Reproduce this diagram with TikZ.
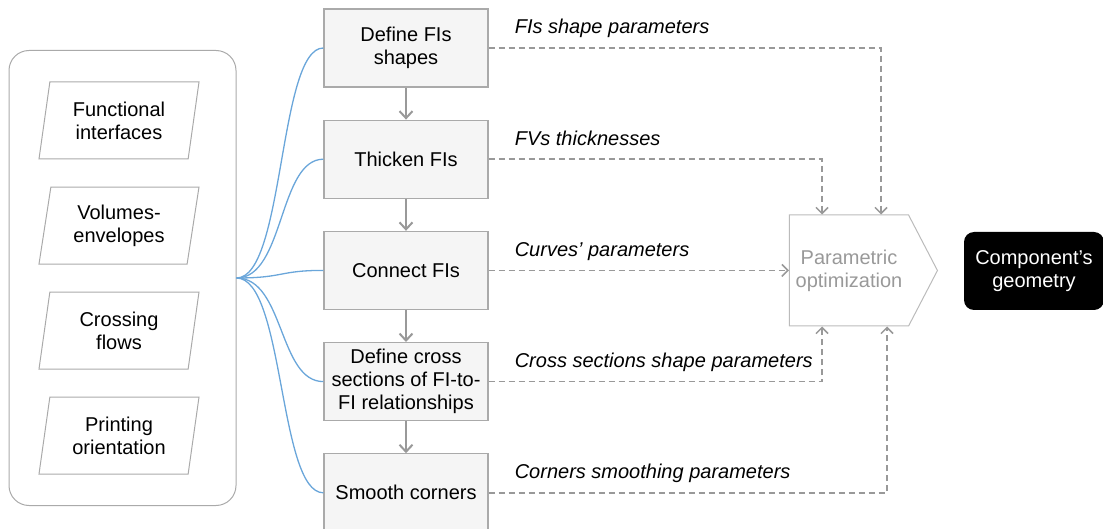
\documentclass[tikz,border=0pt]{standalone}
\usepackage{fontspec}
\setmainfont{Liberation Sans}
\usetikzlibrary{arrows.meta,positioning,shapes.geometric,shapes.symbols,calc}

\definecolor{boxfill}{HTML}{F5F5F5}
\definecolor{boxline}{HTML}{AAAAAA}
\definecolor{flowgray}{HTML}{999999}
\definecolor{feedblue}{HTML}{6AA6DA}

\begin{document}
\begin{tikzpicture}[
  x=1pt, y=-1pt,
  font=\fontsize{20}{23}\selectfont,
  node distance=32pt,
  container/.style={rectangle, rounded corners=20pt, draw=boxline, line width=1pt, minimum width=227pt, minimum height=455pt},
  datain/.style={trapezium, trapezium left angle=75.4, trapezium right angle=104.6, trapezium stretches body, draw=boxline, line width=1pt, minimum width=160pt, minimum height=77pt, align=center, inner sep=2pt},
  process/.style={rectangle, draw=boxline, fill=boxfill, line width=1.2pt, minimum width=164pt, minimum height=78pt, align=center, inner sep=2pt},
  optim/.style={signal, signal to=east, signal pointer angle=125, draw=boxline!80, line width=1pt, minimum width=148pt, minimum height=111pt, align=center, text=flowgray},
  result/.style={rectangle, rounded corners=10pt, fill=black, text=white, minimum width=140pt, minimum height=78pt, align=center},
  lbl/.style={font=\fontsize{20}{23}\selectfont\itshape, inner sep=0pt, anchor=base west},
  steparrow/.style={-{Straight Barb[length=7pt,width=13pt,line width=2pt]}, draw=flowgray, line width=2pt},
  param/.style={-{Straight Barb[length=6pt,width=12pt,line width=1.5pt]}, draw=flowgray, line width=1.5pt, dash pattern=on 6pt off 4pt},
  feed/.style={draw=feedblue, line width=1.3pt}
]
\useasboundingbox (0,0) rectangle (1103,529);

% Inputs
\node[container] (inputs) at (122.5,278) {};
\node[datain] (fi) at (119,120.5) {Functional\\interfaces};
\node[datain, below=27pt of fi] (ve) {Volumes-\\envelopes};
\node[datain, below=27pt of ve] (cf) {Crossing\\flows};
\node[datain, below=27pt of cf] (po) {Printing\\orientation};

% Steps
\node[process] (b1) at (406,48) {Define FIs\\shapes};
\node[process, below=of b1] (b2) {Thicken FIs};
\node[process, below=of b2] (b3) {Connect FIs};
\node[process, below=of b3] (b4) {Define cross\\sections of FI-to-\\FI relationships};
\node[process, below=of b4] (b5) {Smooth corners};

% Optimization and output
\node[optim] (opt) at (849,270.5) {Parametric\\optimization};
\node[result] (geom) at (1034,271) {Component's\\geometry};

% Labels
\node[lbl] (l1) at ([xshift=26pt,yshift=14pt]b1.east) {FIs shape parameters};
\node[lbl] (l2) at ([xshift=26pt,yshift=14pt]b2.east) {FVs thicknesses};
\node[lbl] (l3) at ([xshift=26pt,yshift=14pt]b3.east) {Curves' parameters};
\node[lbl] (l4) at ([xshift=26pt,yshift=14pt]b4.east) {Cross sections shape parameters};
\node[lbl] (l5) at ([xshift=26pt,yshift=14pt]b5.east) {Corners smoothing parameters};

% Arrows
\foreach \b in {b1,b2,b3,b4,b5}
  \draw[feed] (inputs.east) .. controls +(48,0) and +(-45,0) .. (\b.west);
\draw[steparrow] (b1) -- (b2);
\draw[steparrow] (b2) -- (b3);
\draw[steparrow] (b3) -- (b4);
\draw[steparrow] (b4) -- (b5);
\draw[param] (b1.east) -| ([xshift=32pt]opt.north);
\draw[param] (b2.east) -| ([xshift=-27pt]opt.north);
\draw[param] (b3.east) -- (b3.east -| opt.west);
\draw[param] (b4.east) -| ([xshift=-27pt]opt.south);
\draw[param] (b5.east) -| ([xshift=38pt]opt.south);

\end{tikzpicture}
\end{document}
